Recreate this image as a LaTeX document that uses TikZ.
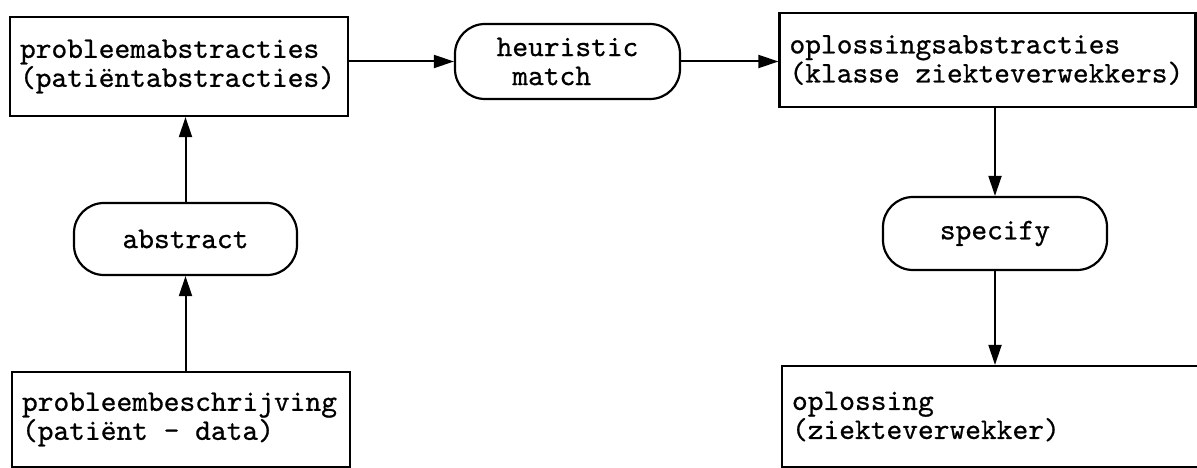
\documentclass[tikz,border=0pt]{standalone}
\usepackage{fontspec}
\usetikzlibrary{arrows.meta}
\newfontfamily\tw{lmmono10-regular.otf}[FakeBold=0.7]
\newcommand\twfont{\tw\fontsize{30}{29}\selectfont}
\newcommand\tsp{\hspace{0.525em}}
\begin{document}
\begin{tikzpicture}[x=1pt,y=-1pt,
  txt/.style={font=\twfont},
  box/.style={txt,draw,line width=2.2pt,rectangle,inner xsep=10pt,inner ysep=0pt,align=left},
  pill/.style={txt,draw,line width=2.2pt,rounded corners=30pt,inner sep=0pt},
  arr/.style={line width=2pt,-{Triangle[length=20pt,width=13pt]}}]
\useasboundingbox (0,0) rectangle (1197,468);
\node[box,text width=318pt,minimum height=99pt] (pa) at (179,66.5) {probleemabstracties\\(patiëntabstracties)};
\node[pill,align=left,minimum width=225pt,minimum height=75pt] (hm) at (567.5,61.5) {heuristic\\\hspace*{0.525em}match};
\node[box,text width=396pt,minimum height=94pt] (oa) at (987.5,60) {oplossingsabstracties\\(klasse\tsp ziekteverwekkers)};
\node[pill,align=center,minimum width=223pt,minimum height=72pt] (ab) at (185.5,239) {abstract};
\node[pill,align=center,minimum width=224pt,minimum height=73pt] (sp) at (995,233.5) {specify};
\node[box,text width=318pt,minimum height=95pt] (pb) at (181,419.5) {probleembeschrijving\\(patiënt\tsp-\tsp data)};
\node[box,text width=398pt,minimum height=101pt] (op) at (991,416.5) {oplossing\\(ziekteverwekker)};
\draw[arr] (pa.east |- hm.west) -- (hm.west);
\draw[arr] (hm.east) -- (hm.east -| oa.west);
\draw[arr] (pb.north -| ab.south) -- (ab.south);
\draw[arr] (ab.north) -- (ab.north |- pa.south);
\draw[arr] (oa.south -| sp.north) -- (sp.north);
\draw[arr] (sp.south) -- (sp.south |- op.north);
\end{tikzpicture}
\end{document}
